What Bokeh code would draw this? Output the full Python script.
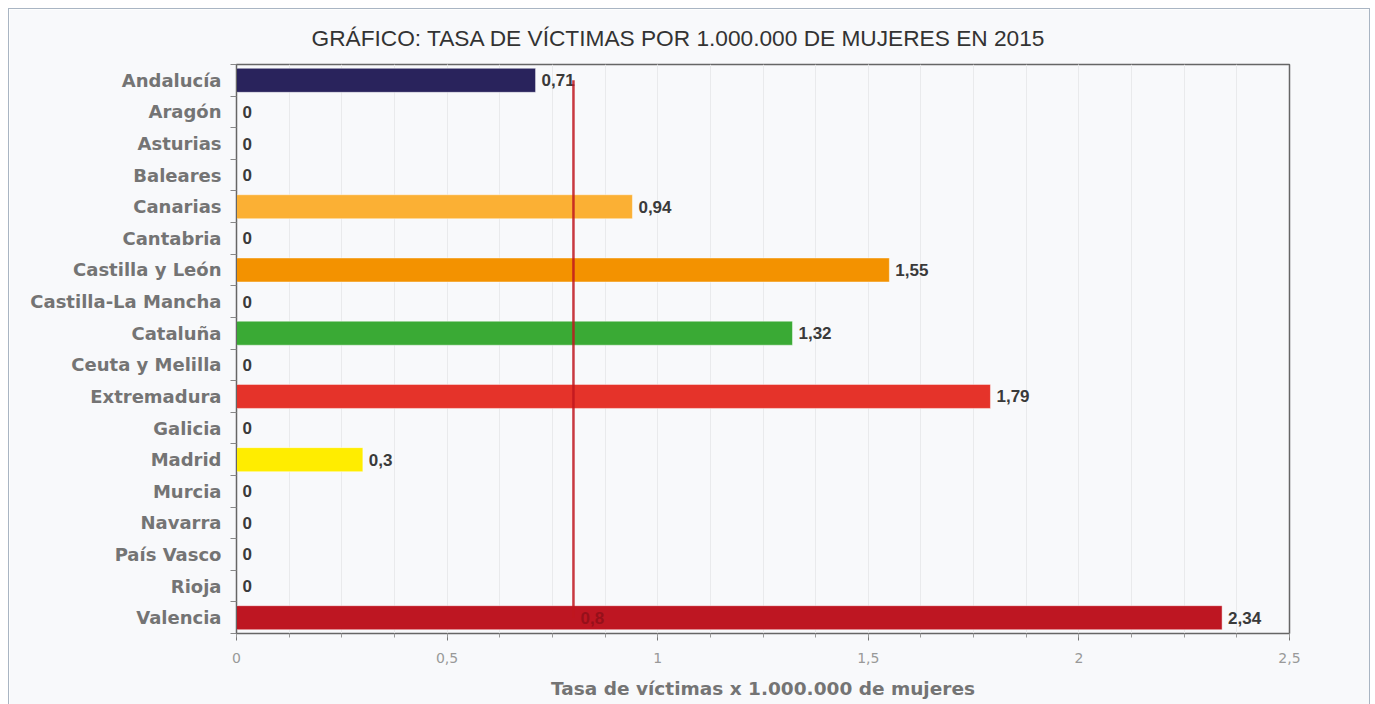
from bokeh.plotting import figure
from bokeh.models import Range1d, FixedTicker, CustomJSTickFormatter, ColumnDataSource
from bokeh.core.properties import value
from bokeh.embed import file_html
from bokeh.resources import INLINE

# ---- data ----
regions = ["Andalucía", "Aragón", "Asturias", "Baleares", "Canarias", "Cantabria",
           "Castilla y León", "Castilla-La Mancha", "Cataluña", "Ceuta y Melilla",
           "Extremadura", "Galicia", "Madrid", "Murcia", "Navarra", "País Vasco",
           "Rioja", "Valencia"]
rates = [0.71, 0, 0, 0, 0.94, 0, 1.55, 0, 1.32, 0, 1.79, 0, 0.3, 0, 0, 0, 0, 2.34]
bar_colors = ["#29235c", "#29235c", "#29235c", "#29235c", "#fbb034", "#29235c",
              "#f39200", "#29235c", "#3aaa35", "#29235c", "#e5332a", "#29235c",
              "#ffed00", "#29235c", "#29235c", "#29235c", "#29235c", "#be1622"]
spain_average = 0.8
x_ticks = [0, 0.5, 1, 1.5, 2, 2.5]
x_minor = [i * 0.125 for i in range(21)]

n = len(regions)
ypos = [n - 1 - i for i in range(n)]
labels = [("%g" % v).replace(".", ",") for v in rates]

src = ColumnDataSource(dict(y=ypos, rate=rates, color=bar_colors, label=labels))

BG = "#f8f9fb"
p = figure(width=1362, height=696, output_backend="svg", toolbar_location=None,
           x_range=Range1d(0, 2.5), y_range=Range1d(-0.5, n - 0.5),
           title="GRÁFICO: TASA DE VÍCTIMAS POR 1.000.000 DE MUJERES EN 2015",
           min_border_left=227, min_border_right=82, min_border_top=55, min_border_bottom=72)
p.styles = {"margin-left": "8px", "margin-top": "8px",
            "border-top": "1px solid #a9b5c3", "border-left": "1px solid #a9b5c3",
            "border-right": "1px solid #a9b5c3"}
p.background_fill_color = BG
p.border_fill_color = BG
p.outline_line_color = "#666666"
p.outline_line_width = 1.5

p.title.align = "left"
p.title.offset = 75
p.title.vertical_align = "bottom"
p.title.text_font = "Liberation Sans"
p.title.text_font_size = "22.7px"
p.title.text_font_style = "normal"
p.title.text_color = "#333333"
p.title.standoff = 27

p.hbar(y="y", right="rate", left=0, height=0.76, fill_color="color",
       line_color="white", line_alpha=0.45, line_width=1, source=src)

p.text(x="rate", y="y", text="label", x_offset=6, text_baseline="middle",
       text_font=value("Liberation Sans"), text_font_style="bold",
       text_font_size="17px", text_color="#3a3a3a", source=src)

p.segment(x0=spain_average, y0=n - 1, x1=spain_average, y1=0,
          line_color="#c0161f", line_width=2.5, line_alpha=0.85)
p.text(x=[spain_average], y=[0], text=[("%g" % spain_average).replace(".", ",")],
       x_offset=7, text_baseline="middle",
       text_font=value("Liberation Sans"), text_font_style="bold",
       text_font_size="17px", text_color="#96101a")

# grid
p.ygrid.visible = False
p.xgrid.grid_line_color = "#e9eaec"
p.xgrid.minor_grid_line_color = "#e9eaec"

# x axis
xa = p.xaxis[0]
xa.ticker = FixedTicker(ticks=x_ticks, minor_ticks=x_minor)
xa.formatter = CustomJSTickFormatter(code="return tick.toString().replace('.', ',');")
xa.axis_line_color = "#666666"
xa.major_tick_line_color = "#777777"
xa.minor_tick_line_color = "#999999"
xa.major_tick_out = 7
xa.major_tick_in = 0
xa.minor_tick_out = 4
xa.minor_tick_in = 0
xa.major_label_text_color = "#999999"
xa.major_label_text_font = "DejaVu Sans"
xa.major_label_text_font_size = "14px"
xa.major_label_standoff = 12
xa.axis_label = "Tasa de víctimas x 1.000.000 de mujeres"
xa.axis_label_text_font = "DejaVu Sans"
xa.axis_label_text_font_style = "bold"
xa.axis_label_text_font_size = "18.5px"
xa.axis_label_text_color = "#747474"
xa.axis_label_standoff = 12

# y axis
ya = p.yaxis[0]
ya.ticker = FixedTicker(ticks=ypos, minor_ticks=[k - 0.5 for k in range(n + 1)])
ya.formatter = CustomJSTickFormatter(args=dict(names=regions),
                                     code="return names[names.length - 1 - Math.round(tick)];")
ya.axis_line_color = "#666666"
ya.major_tick_out = 0
ya.major_tick_in = 0
ya.minor_tick_out = 6
ya.minor_tick_in = 0
ya.minor_tick_line_color = "#888888"
ya.major_label_text_font = "DejaVu Sans"
ya.major_label_text_font_style = "bold"
ya.major_label_text_font_size = "18px"
ya.major_label_text_color = "#747474"
ya.major_label_standoff = 9

open("out.html", "w").write(file_html(p, INLINE))
